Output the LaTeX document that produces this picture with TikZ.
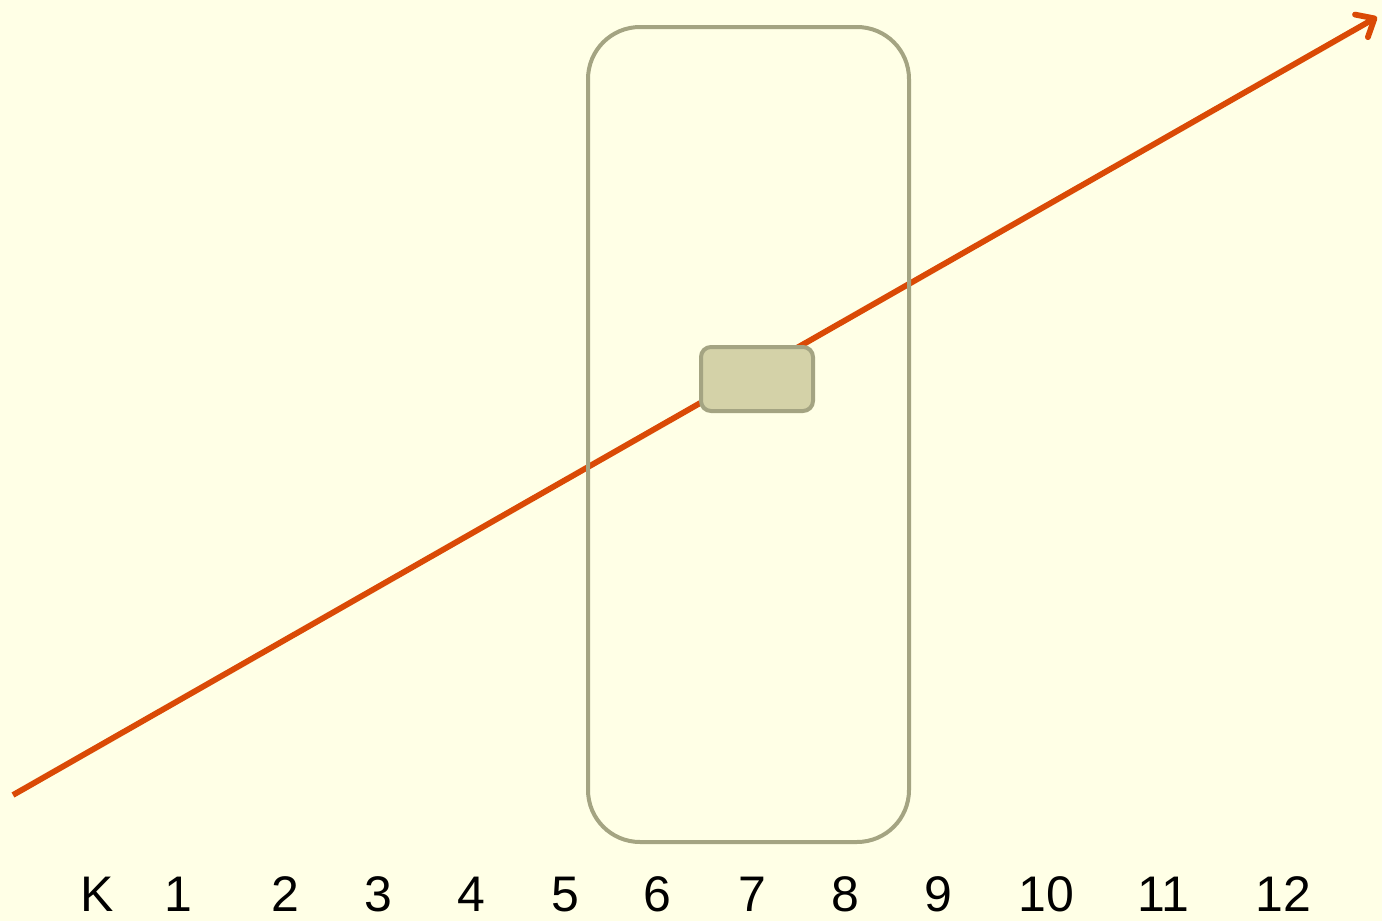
\documentclass[tikz,border=0pt]{standalone}
\usepackage{fontspec}
\setmainfont{Liberation Sans}
\usetikzlibrary{arrows.meta}

\definecolor{paper}{RGB}{255,255,230}
\definecolor{rise}{RGB}{218,74,6}
\definecolor{frame}{RGB}{164,164,130}
\definecolor{patch}{RGB}{212,210,168}

\begin{document}
\begin{tikzpicture}[
  x=0.5pt, y=-0.5pt,
  window/.style={draw=frame,line width=2pt,rounded corners=26pt,minimum width=160.5pt,minimum height=407.5pt,inner sep=0pt},
  hit/.style={window,fill=patch,rounded corners=5pt,minimum width=56pt,minimum height=32pt},
  tick/.style={font=\fontsize{25}{28}\selectfont,inner sep=0pt,anchor=base},
  trend/.style={draw=rise,line width=2.9pt,-{Straight Barb[length=7.5pt,width=13pt,line cap=round,round]}}
]

% ---------- background ----------
\fill[paper] (0,0) rectangle (1382,921);
\useasboundingbox (0,0) rectangle (1382,921);

% ---------- line ----------
\coordinate (start) at (13,795);
\coordinate (tip) at (1377,17);
\draw[trend] (start) -- (tip);

% ---------- boxes ----------
\node[window] (frame) at (748.5,434.5) {};
\node[hit] (mark) at (757,379) {};

% ---------- axis labels ----------
\foreach \lx/\lt in {97/K,178/1,285/2,378/3,471/4,565/5,657/6,752/7,845/8,938/9,1046/10,1163/11,1283/12}
  \node[tick] (lbl-\lt) at (\lx,911) {\lt};

\end{tikzpicture}
\end{document}
